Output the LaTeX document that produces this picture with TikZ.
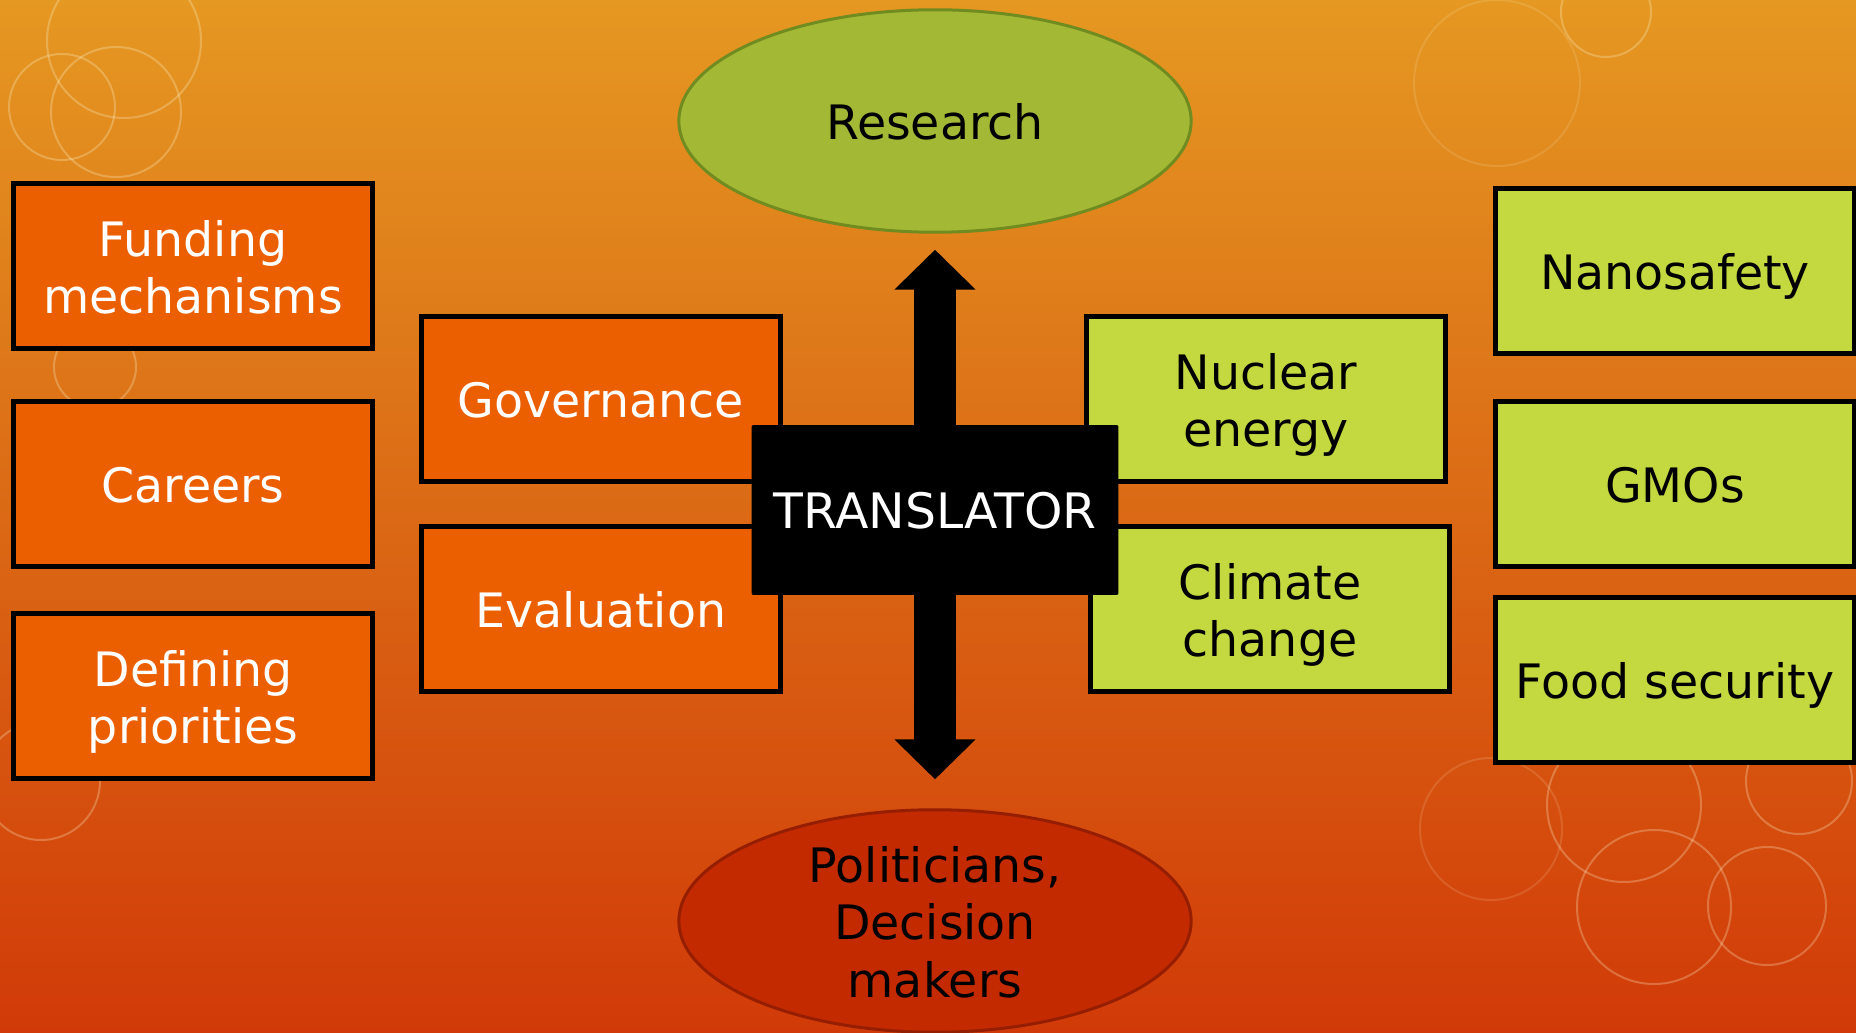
\documentclass[tikz,border=0pt]{standalone}
\usepackage{fontspec}
\setmainfont{DejaVu Sans}
\usepackage{xcolor}
\usepackage{tikz}
\usetikzlibrary{shapes.geometric,arrows.meta}

\definecolor{bgtop}{RGB}{229,152,34}
\definecolor{bgmid}{RGB}{219,112,28}
\definecolor{bgbot}{RGB}{209,58,8}
\definecolor{boxorange}{RGB}{235,95,0}
\definecolor{boxgreen}{RGB}{196,216,64}
\definecolor{resfill}{RGB}{163,184,52}
\definecolor{resline}{RGB}{112,140,32}
\definecolor{polfill}{RGB}{196,42,0}
\definecolor{polline}{RGB}{150,30,0}

\newcommand{\slidefont}{\fontsize{27}{32.7}\selectfont}

\tikzset{
	% #1 = number of text lines
	slidetext/.style={align=center,font=\slidefont,
		execute at begin node={\rule[-5.7pt]{0pt}{\dimexpr 32.8pt+32.7pt*(#1-1)\relax}}},
	slidetext/.default=1,
	orangebox/.style={slidetext=#1,draw=black,line width=0.1cm,fill=boxorange,text=white,
		minimum width=7.2cm,minimum height=3.3cm},
	orangebox/.default=1,
	greenbox/.style={slidetext=#1,draw=black,line width=0.1cm,fill=boxgreen,text=black,
		minimum width=7.2cm,minimum height=3.3cm},
	greenbox/.default=1,
	bubble/.style={slidetext=#1,ellipse,line width=0.06cm,minimum width=10.25cm,minimum height=4.45cm,
		inner ysep=-0.25cm},
	bubble/.default=1,
	ring/.style={draw=white!85!yellow,opacity=0.26,line width=0.04cm},
	bigarrow/.style={line width=0.84cm,-{Triangle[width=1.58cm,length=0.8cm]}}
}

\begin{document}
\begin{tikzpicture}[x=0.02cm,y=-0.02cm]
	\useasboundingbox (0,0) rectangle (1856,1033);
	\fill[top color=bgtop,middle color=bgmid,bottom color=bgbot] (0,0) rectangle (1856,1033);
	% background rings
	\draw[ring] (116,112) circle (65);
	\draw[ring] (62,107) circle (53);
	\draw[ring] (124,41) circle (77);
	\draw[ring] (95,367) circle (41);
	\draw[ring] (41,781) circle (59);
	\draw[ring] (1606,12) circle (45);
	\draw[ring,opacity=0.13] (1497,83) circle (83);
	\draw[ring] (1624,805) circle (77);
	\draw[ring] (1654,907) circle (77);
	\draw[ring] (1767,906) circle (59);
	\draw[ring] (1799,781) circle (53);
	\draw[ring,opacity=0.13] (1491,829) circle (71);

	% left column
	\node[orangebox=2] (funding) at (193,266) {Funding\\mechanisms};
	\node[orangebox] (careers) at (193,484) {Careers};
	\node[orangebox=2] (defining) at (193,696) {Defining\\priorities};
	\node[orangebox] (governance) at (601,399) {Governance};
	\node[orangebox] (evaluation) at (601,609) {Evaluation};

	% right column
	\node[greenbox=2] (nuclear) at (1266,399) {Nuclear\\energy};
	\node[greenbox=2] (climate) at (1270,609) {Climate\\change};
	\node[greenbox] (nanosafety) at (1675,271) {Nanosafety};
	\node[greenbox] (gmos) at (1675,484) {GMOs};
	\node[greenbox] (food) at (1675,680) {Food security};

	% centre
	\node[slidetext,font=\fontsize{27.8}{32.7}\selectfont,fill=black,text=white,rounded corners=0.04cm,
		minimum width=7.34cm,minimum height=3.4cm] (translator) at (935,510) {TRANSLATOR};
	\node[bubble,draw=resline,fill=resfill] (research) at (935,121) {Research};
	\node[bubble=3,draw=polline,fill=polfill] (politicians) at (935,921) {Politicians,\\Decision\\makers};

	\draw[bigarrow,shorten >=0.32cm] (translator.north) -- (research.south);
	\draw[bigarrow,shorten >=0.58cm] (translator.south) -- (politicians.north);
\end{tikzpicture}
\end{document}
